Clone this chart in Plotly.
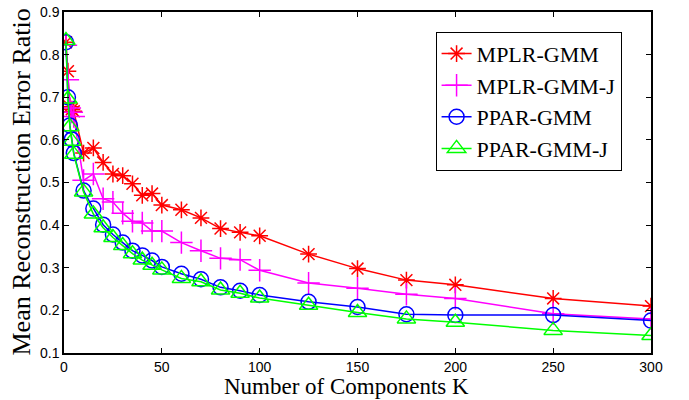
import plotly.graph_objects as go

K = [1, 2, 3, 4, 5, 10, 15, 20, 25, 30, 35, 40, 45, 50, 60, 70, 80, 90, 100, 125, 150, 175, 200, 250, 300]

mplr_gmm = [0.829, 0.761, 0.678, 0.672, 0.667, 0.569, 0.581, 0.547, 0.520, 0.516, 0.497, 0.470, 0.474, 0.447,
            0.436, 0.417, 0.392, 0.383, 0.375, 0.332, 0.298, 0.271, 0.260, 0.228, 0.210]
mplr_gmm_j = [0.822, 0.741, 0.675, 0.665, 0.655, 0.505, 0.520, 0.462, 0.454, 0.428, 0.409, 0.405, 0.386, 0.386,
              0.359, 0.340, 0.322, 0.319, 0.294, 0.264, 0.252, 0.238, 0.228, 0.192, 0.180]
ppar_gmm = [0.829, 0.700, 0.634, 0.601, 0.569, 0.481, 0.439, 0.401, 0.378, 0.359, 0.340, 0.329, 0.317, 0.302,
            0.286, 0.273, 0.254, 0.246, 0.236, 0.220, 0.208, 0.191, 0.189, 0.189, 0.176]
ppar_gmm_j = [0.833, 0.696, 0.631, 0.597, 0.566, 0.478, 0.426, 0.394, 0.371, 0.352, 0.333, 0.318, 0.306, 0.295,
              0.275, 0.267, 0.248, 0.240, 0.229, 0.212, 0.195, 0.180, 0.172, 0.153, 0.141]

names = ["MPLR-GMM", "MPLR-GMM-J", "PPAR-GMM", "PPAR-GMM-J"]
series = [mplr_gmm, mplr_gmm_j, ppar_gmm, ppar_gmm_j]
colors = ["#ff0000", "#ff00ff", "#0000ff", "#00ff00"]
symbols = ["asterisk-open", "cross-thin-open", "circle-open", "triangle-up-open"]
sizes = [14, 16, 15, 16]

SERIF = "Liberation Serif, Times New Roman, DejaVu Serif, serif"

fig = go.Figure()
for n, s, c, sym, sz in zip(names, series, colors, symbols, sizes):
    fig.add_trace(go.Scatter(
        x=K, y=s, name=n, mode="lines+markers",
        line=dict(color=c, width=1.5),
        marker=dict(symbol=sym, size=sz, color=c, line=dict(color=c, width=1.5)),
    ))

axis_common = dict(showline=True, linecolor="black", linewidth=1.5, mirror="ticks",
                   ticks="inside", ticklen=5, tickcolor="black", showgrid=False, zeroline=False,
                   ticklabeloverflow="allow",
                   tickfont=dict(family="Liberation Sans, Arial, sans-serif", size=14, color="black"))
fig.update_xaxes(range=[0, 300], tickvals=[0, 50, 100, 150, 200, 250, 300], **axis_common)
fig.update_yaxes(range=[0.1, 0.9], tickvals=[0.1, 0.2, 0.3, 0.4, 0.5, 0.6, 0.7, 0.8, 0.9],
                 tickformat=".1f", **axis_common)

fig.update_layout(
    width=689, height=400,
    margin=dict(l=64, r=38, t=4, b=47),
    plot_bgcolor="white", paper_bgcolor="white",
    showlegend=True,
    legend=dict(x=0.633, y=0.942, xanchor="left", yanchor="top",
                bgcolor="white", bordercolor="black", borderwidth=1,
                font=dict(family=SERIF, size=22, color="black"),
                itemwidth=30, tracegroupgap=0),
    annotations=[
        dict(text="Number of Components K", xref="paper", yref="paper",
             x=(346 - 64) / 587, y=-(372 - 353) / 349, xanchor="center", yanchor="top",
             showarrow=False, font=dict(family=SERIF, size=23, color="black")),
        dict(text="Mean Reconstruction Error Ratio", xref="paper", yref="paper",
             x=(21 - 64) / 587, y=0.5, xanchor="center", yanchor="middle",
             textangle=-90, showarrow=False,
             font=dict(family=SERIF, size=26, color="black")),
    ],
)

fig.write_html("out.html", config={"displayModeBar": False},
               post_script="document.body.style.margin='0px';")
